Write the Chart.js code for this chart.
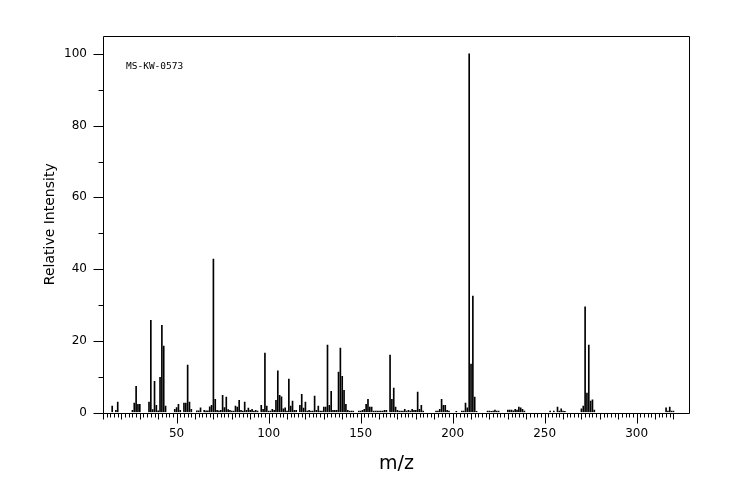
<!DOCTYPE html>
<html>
<head>
<meta charset="utf-8">
<script src="https://cdn.jsdelivr.net/npm/chart.js@4"></script>
<style>
  html, body { margin: 0; padding: 0; background: #fff; }
  #wrap { width: 744px; height: 500px; }
</style>
</head>
<body>
<div id="wrap"><canvas id="c" width="744" height="500"></canvas></div>
<script>
// ---- data ----
const mz = [15,17,18,26,27,28,29,30,35,36,37,38,39,40,41,42,43,44,49,50,51,52,54,55,56,57,58,61,62,63,65,66,67,68,69,70,71,72,73,
  74,75,76,77,78,79,80,81,82,83,84,85,86,87,88,89,90,91,92,93,94,96,97,98,99,100,101,102,103,104,105,106,107,108,109,110,111,112,113,114,115,
  117,118,119,120,121,122,123,124,125,126,127,128,129,130,131,132,133,134,135,136,137,138,139,140,141,142,143,144,145,146,149,150,151,152,153,154,155,156,
  157,158,159,160,161,162,163,164,166,167,168,169,170,171,172,173,174,175,176,177,178,179,180,181,182,183,184,191,192,193,194,195,196,197,198,
  202,205,206,207,208,209,210,211,212,213,219,220,221,222,223,224,225,230,231,232,233,234,235,236,237,238,239,253,255,257,258,259,260,261,
  270,271,272,273,274,275,276,277,316,317,318,319,320];
const intensity = [1.8,0.6,2.9,0.6,2.6,7.3,2.3,2.3,2.9,25.7,0.8,8.7,2.0,0.5,9.8,24.3,18.5,1.8,0.9,1.4,2.3,0.6,2.6,2.6,13.2,2.9,0.9,0.5,0.5,1.3,0.6,0.5,0.5,1.6,2.0,42.8,3.7,0.6,0.5,
  0.6,4.8,1.4,4.3,0.8,0.6,0.4,0.4,1.8,1.5,3.4,0.6,0.4,2.9,0.6,1.2,0.6,0.9,0.4,0.6,0.4,2.0,0.9,16.6,1.8,0.4,0.4,0.9,0.6,3.4,11.6,4.8,4.4,1.0,1.3,0.4,9.3,1.8,3.2,0.6,0.6,
  2.0,5.1,1.2,2.9,0.4,0.6,0.4,0.4,4.6,0.6,1.8,0.4,0.4,1.5,1.5,18.8,2.0,5.9,0.6,0.6,0.6,11.3,18.0,10.1,6.2,2.3,0.6,0.4,0.4,0.4,0.4,0.4,0.6,0.9,2.3,3.7,1.5,1.5,
  0.4,0.4,0.4,0.4,0.4,0.4,0.6,0.6,16.0,3.7,6.8,1.5,0.6,0.4,0.4,0.4,0.9,0.4,0.6,0.4,0.9,0.6,0.6,5.7,0.9,2.0,0.4,0.4,0.4,0.9,3.7,2.0,2.0,0.6,0.4,
  0.3,0.4,0.4,2.6,1.3,100,13.5,32.5,4.3,0.3,0.4,0.4,0.3,0.4,0.7,0.4,0.4,0.7,0.7,0.7,0.5,0.9,0.7,1.5,1.3,0.9,0.4,0.4,0.4,1.5,0.4,1.0,0.4,0.3,
  1.0,1.8,29.5,5.4,18.8,3.2,3.5,0.7,1.3,0.4,1.5,0.4,0.4];
const xTickLabels = [50,100,150,200,250,300];
const yTickLabels = [0,20,40,60,80,100];
const xTitle = 'm/z';
const yTitle = 'Relative Intensity';
const sampleId = 'MS-KW-0573';
// ---- end data ----

const xMin = 10, xMax = 329, yMin = 0, yMax = 105;
const xMinorStep = 2, xMinorFrom = 10, xMinorTo = 320;
const yMinorStep = 10;

const points = mz.map((m, i) => ({ x: m, y: intensity[i] }));

const frameTicks = {
  id: 'frameTicks',
  afterDatasetsDraw(chart) {
    const { ctx, chartArea: a, scales: { x, y } } = chart;
    ctx.save();
    ctx.strokeStyle = '#000';
    ctx.lineWidth = 1;
    const L = Math.round(a.left) + 0.5, R = Math.round(a.right) - 0.5;
    const T = Math.round(a.top) + 0.5, B = Math.round(a.bottom) + 0.5;
    ctx.beginPath();
    ctx.moveTo(L, B); ctx.lineTo(L, T); ctx.lineTo(R, T); ctx.lineTo(R, B); ctx.lineTo(L, B);
    for (let m = xMinorFrom; m <= xMinorTo; m += xMinorStep) {
      const px = Math.round(x.getPixelForValue(m)) + 0.5;
      const len = (m % 50 === 0) ? 10 : (m % 10 === 0 ? 6 : 4);
      ctx.moveTo(px, B); ctx.lineTo(px, B + len);
    }
    for (let v = 0; v <= 100; v += yMinorStep) {
      const py = Math.round(y.getPixelForValue(v)) + 0.5;
      const len = (v % 20 === 0) ? 10 : 5;
      ctx.moveTo(L, py); ctx.lineTo(L - len, py);
    }
    ctx.stroke();
    ctx.fillStyle = '#000';
    ctx.font = '9.5px "DejaVu Sans Mono"';
    ctx.textBaseline = 'middle';
    ctx.fillText(sampleId, a.left + 23, a.top + 30.5);
    ctx.restore();
  }
};

Chart.defaults.color = '#000';
Chart.defaults.font.family = '"DejaVu Sans", sans-serif';

new Chart(document.getElementById('c'), {
  type: 'bar',
  data: {
    datasets: [{
      data: points,
      backgroundColor: '#000',
      borderWidth: 0,
      barThickness: 1,
      grouped: false
    }]
  },
  options: {
    responsive: false,
    devicePixelRatio: 1,
    animation: false,
    events: [],
    layout: { padding: { top: 36, right: 54, left: 0, bottom: 0 } },
    plugins: { legend: { display: false }, tooltip: { enabled: false } },
    scales: {
      x: {
        type: 'linear',
        offset: false,
        min: xMin, max: xMax,
        afterBuildTicks: (s) => { s.ticks = xTickLabels.map(v => ({ value: v })); },
        afterFit: (s) => { s.height = 87.5; },
        grid: { display: true, offset: false, drawOnChartArea: false, drawTicks: true, tickLength: 10, color: 'rgba(0,0,0,0)' },
        border: { display: false },
        ticks: { font: { size: 12 }, padding: 4, maxRotation: 0, autoSkip: false, callback: (v) => String(v) },
        title: { display: true, text: xTitle, font: { size: 19 }, padding: { top: 0, bottom: 25 } }
      },
      y: {
        type: 'linear',
        min: yMin, max: yMax,
        afterBuildTicks: (s) => { s.ticks = yTickLabels.map(v => ({ value: v })); },
        afterFit: (s) => { s.width = 103; },
        grid: { display: true, drawOnChartArea: false, drawTicks: true, tickLength: 10, color: 'rgba(0,0,0,0)' },
        border: { display: false },
        ticks: { font: { size: 12 }, padding: 6, autoSkip: false, callback: (v) => String(v) },
        title: { display: true, text: yTitle, font: { size: 14 }, padding: { top: 42, bottom: 0 } }
      }
    }
  },
  plugins: [frameTicks]
});
</script>
</body>
</html>
